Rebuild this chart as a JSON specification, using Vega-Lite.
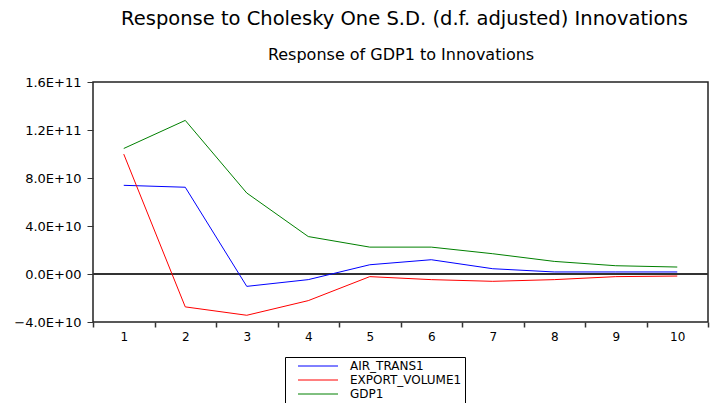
{
  "$schema": "https://vega.github.io/schema/vega-lite/v6.json",
  "width": 615,
  "height": 240,
  "autosize": "none",
  "padding": {"left": 93, "top": 82, "right": 2, "bottom": 81},
  "background": "white",
  "config": {
    "font": "DejaVu Sans",
    "view": {"stroke": "#222", "strokeWidth": 1.5}
  },
  "title": {
    "text": "Response to Cholesky One S.D. (d.f. adjusted) Innovations",
    "font": "DejaVu Sans",
    "fontSize": 19.5,
    "fontWeight": "normal",
    "color": "#000",
    "anchor": "middle",
    "dx": 4,
    "offset": 17
  },
  "data": {
    "values": [
      {"step": 1, "series": "AIR_TRANS1", "value": 7.39e10},
      {"step": 2, "series": "AIR_TRANS1", "value": 7.23e10},
      {"step": 3, "series": "AIR_TRANS1", "value": -1.03e10},
      {"step": 4, "series": "AIR_TRANS1", "value": -0.47e10},
      {"step": 5, "series": "AIR_TRANS1", "value": 0.77e10},
      {"step": 6, "series": "AIR_TRANS1", "value": 1.19e10},
      {"step": 7, "series": "AIR_TRANS1", "value": 0.44e10},
      {"step": 8, "series": "AIR_TRANS1", "value": 0.17e10},
      {"step": 9, "series": "AIR_TRANS1", "value": 0.17e10},
      {"step": 10, "series": "AIR_TRANS1", "value": 0.17e10},
      {"step": 1, "series": "EXPORT_VOLUME1", "value": 9.99e10},
      {"step": 2, "series": "EXPORT_VOLUME1", "value": -2.74e10},
      {"step": 3, "series": "EXPORT_VOLUME1", "value": -3.44e10},
      {"step": 4, "series": "EXPORT_VOLUME1", "value": -2.22e10},
      {"step": 5, "series": "EXPORT_VOLUME1", "value": -0.22e10},
      {"step": 6, "series": "EXPORT_VOLUME1", "value": -0.47e10},
      {"step": 7, "series": "EXPORT_VOLUME1", "value": -0.61e10},
      {"step": 8, "series": "EXPORT_VOLUME1", "value": -0.47e10},
      {"step": 9, "series": "EXPORT_VOLUME1", "value": -0.22e10},
      {"step": 10, "series": "EXPORT_VOLUME1", "value": -0.17e10},
      {"step": 1, "series": "GDP1", "value": 10.46e10},
      {"step": 2, "series": "GDP1", "value": 12.8e10},
      {"step": 3, "series": "GDP1", "value": 6.75e10},
      {"step": 4, "series": "GDP1", "value": 3.12e10},
      {"step": 5, "series": "GDP1", "value": 2.24e10},
      {"step": 6, "series": "GDP1", "value": 2.24e10},
      {"step": 7, "series": "GDP1", "value": 1.69e10},
      {"step": 8, "series": "GDP1", "value": 1.05e10},
      {"step": 9, "series": "GDP1", "value": 0.69e10},
      {"step": 10, "series": "GDP1", "value": 0.58e10}
    ]
  },
  "resolve": {"axis": {"x": "independent"}},
  "layer": [
    {
      "mark": {"type": "rule", "color": "#333", "strokeWidth": 1},
      "encoding": {"y": {"datum": 0, "type": "quantitative"}}
    },
    {
      "mark": {"type": "line", "strokeWidth": 1, "interpolate": "linear"},
      "encoding": {
        "x": {
          "field": "step",
          "type": "ordinal",
          "scale": {"paddingInner": 0, "paddingOuter": 0},
          "axis": {
            "title": null,
            "labelAngle": 0,
            "tickBand": "extent",
            "tickSize": 5,
            "tickColor": "#333",
            "tickWidth": 1.5,
            "domain": false,
            "grid": false,
            "labelFontSize": 12,
            "labelColor": "#000",
            "labelPadding": 4
          }
        },
        "y": {
          "field": "value",
          "type": "quantitative",
          "scale": {"domain": [-4e10, 1.6e11], "nice": false, "zero": false},
          "axis": {
            "title": null,
            "values": [-4e10, 0, 4e10, 8e10, 1.2e11, 1.6e11],
            "labelExpr": "datum.value == 0 ? '0.0E+00' : format(datum.value / pow(10, floor(log(abs(datum.value)) / LN10)), '.1f') + 'E+' + floor(log(abs(datum.value)) / LN10)",
            "tickSize": 6,
            "tickColor": "#333",
            "domain": false,
            "grid": false,
            "labelFontSize": 13,
            "labelColor": "#000",
            "labelPadding": 6
          }
        },
        "color": {
          "field": "series",
          "type": "nominal",
          "scale": {"domain": ["AIR_TRANS1", "EXPORT_VOLUME1", "GDP1"], "range": ["#0000FF", "#FF0000", "#008000"]},
          "legend": {
            "title": null,
            "orient": "none",
            "legendX": 192,
            "legendY": 275,
            "direction": "vertical",
            "strokeColor": "#000",
            "fillColor": "#fff",
            "padding": 3,
            "symbolType": "M-4,0H4",
            "symbolSize": 100,
            "symbolStrokeWidth": 1,
            "symbolOffset": 24,
            "labelFontSize": 12,
            "labelColor": "#000",
            "labelOffset": 26,
            "rowPadding": 2,
            "labelLimit": 300,
            "encode": {
              "symbols": {
                "update": {
                  "stroke": {"scale": "color", "field": "value"},
                  "fill": {"value": "transparent"}
                }
              }
            }
          }
        }
      }
    },
    {
      "mark": {"type": "point", "opacity": 0},
      "encoding": {
        "x": {
          "field": "step",
          "type": "ordinal",
          "axis": {
            "orient": "top",
            "title": "Response of GDP1 to Innovations",
            "titleFont": "DejaVu Sans",
            "titleFontSize": 16,
            "titleFontWeight": "normal",
            "titleColor": "#000",
            "titlePadding": 20,
            "labels": false,
            "ticks": false,
            "domain": false,
            "grid": false
          }
        },
        "y": {"field": "value", "type": "quantitative"}
      }
    }
  ]
}
